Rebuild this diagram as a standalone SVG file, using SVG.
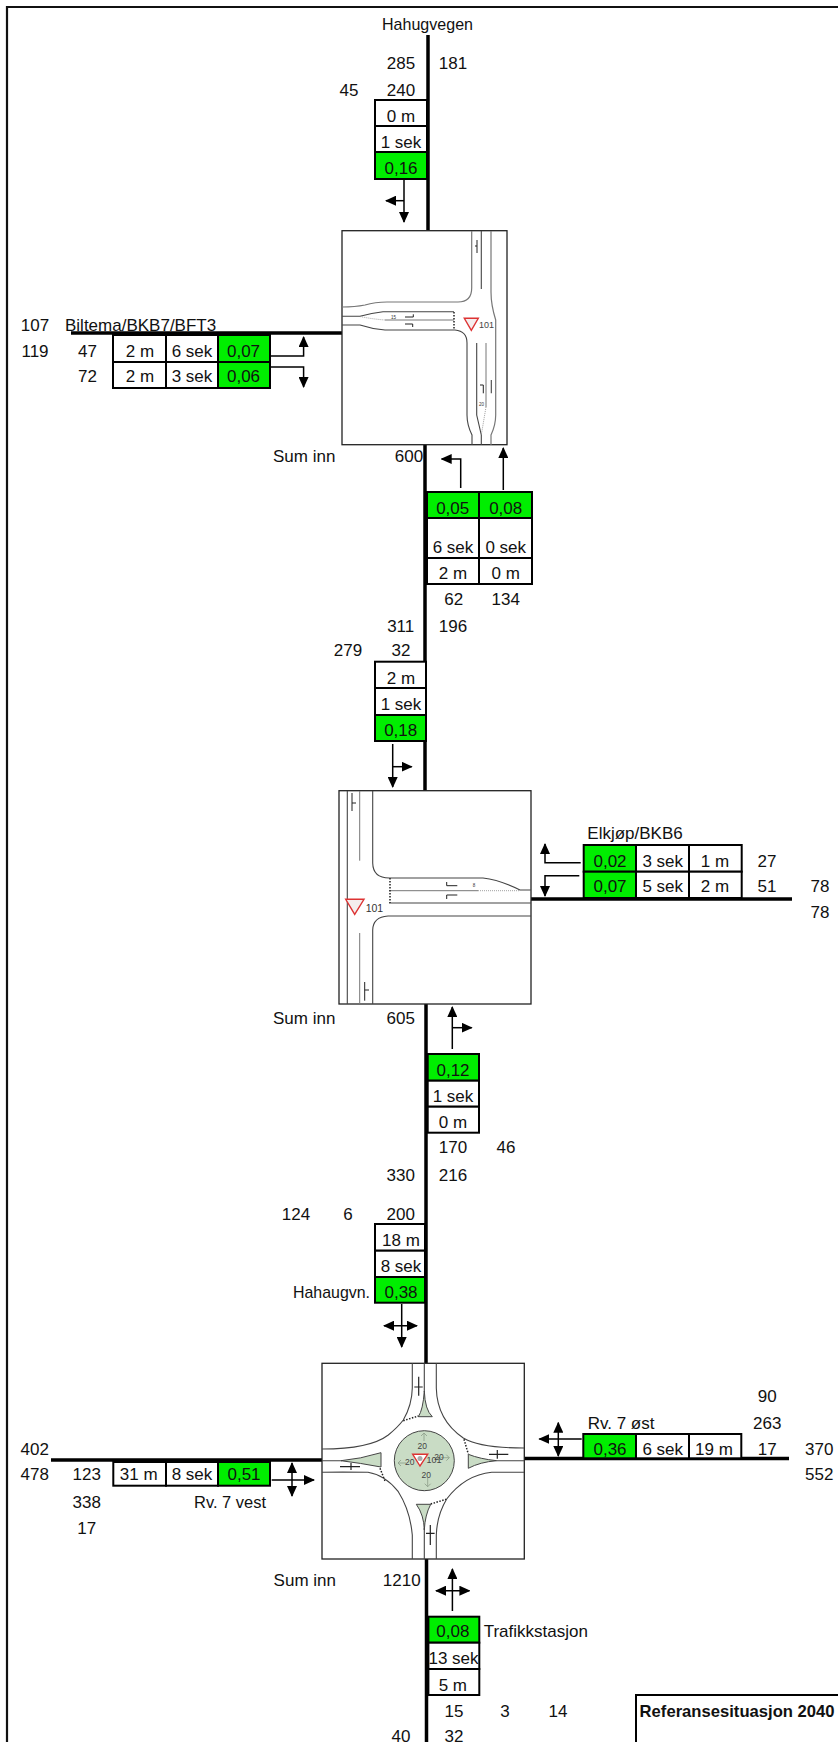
<svg xmlns="http://www.w3.org/2000/svg" width="838" height="1742" viewBox="0 0 838 1742">
<style>
text{font-family:"Liberation Sans",Arial,sans-serif;font-size:17px;fill:#111;text-anchor:middle}
.s{text-anchor:start}.e{text-anchor:end}.b{font-weight:bold}
.c{fill:#fff;stroke:#000;stroke-width:2}.g{fill:#00ee00;stroke:#000;stroke-width:2}
.road{stroke:#000;stroke-width:3.5;fill:none}
.ar{stroke:#000;stroke-width:1.5;fill:none;marker-end:url(#h)}
.st{stroke:#000;stroke-width:1.5;fill:none}
.frame{fill:#fff;stroke:#222;stroke-width:1.3}
.k{fill:none;stroke:#444;stroke-width:1.1}
.l{fill:none;stroke:#777;stroke-width:1}
.d{fill:none;stroke:#222;stroke-width:1.5;stroke-dasharray:1.5 1.5}
.t{fill:none;stroke:#888;stroke-width:.8;stroke-dasharray:1 1}
.m{fill:none;stroke:#222;stroke-width:1}
.y{fill:#f4eeee;stroke:#dd3333;stroke-width:1.4}
.i{fill:#c9dcc5;stroke:#444;stroke-width:1}
.n{fill:none;stroke:#8a9c88;stroke-width:.8}
.tiny{font-size:4.5px;fill:#333}
.sm{font-size:8px;fill:#444}
</style>
<defs>
<marker id="h" markerUnits="userSpaceOnUse" markerWidth="11" markerHeight="10" refX="10" refY="5" orient="auto"><path d="M0 0L11 5L0 10Z" fill="#000"/></marker>
<marker id="hs" markerUnits="userSpaceOnUse" markerWidth="11" markerHeight="10" refX="1" refY="5" orient="auto"><path d="M11 0L0 5L11 10Z" fill="#000"/></marker>
</defs>
<path d="M7 1742V7H838" fill="none" stroke="#111" stroke-width="2.2"/>

<g id="connectors">
<path class="road" d="M428 35V230"/>
<path class="road" d="M71 333H342"/>
<path class="road" d="M425 445V792"/>
<path class="road" d="M531 899H792"/>
<path class="road" d="M426 1004V1363"/>
<path class="road" d="M51 1460H322"/>
<path class="road" d="M524 1458.500H789"/>
<path class="road" d="M426.500 1559V1742"/>
<path class="ar" d="M404 180V222"/><path class="ar" d="M404 200.700H386"/>
<path class="ar" d="M271 356H303.600V337"/><path class="ar" d="M271 367H303.600V387"/>
<path class="ar" d="M460.700 488V459H441.700"/><path class="ar" d="M503.300 490V448"/>
<path class="ar" d="M392.700 744V787"/><path class="ar" d="M392.700 766.700H411.700"/>
<path class="ar" d="M580.700 862.700H545V844"/><path class="ar" d="M579.300 875.700H545V896"/>
<path class="ar" d="M452.300 1049V1007"/><path class="ar" d="M452.300 1027.700H471.700"/>
<path class="ar" d="M401.700 1304V1347"/><path d="M384 1325.700H417" class="ar" style="marker-start:url(#hs)"/>
<path class="ar" d="M271.700 1480H314"/><path d="M292 1463V1496" class="ar" style="marker-start:url(#hs)"/>
<path class="ar" d="M581.700 1439H539.300"/><path d="M558.300 1422.700V1456" class="ar" style="marker-start:url(#hs)"/>
<path class="ar" d="M452.400 1611V1569"/><path d="M436 1590.700H469.400" class="ar" style="marker-start:url(#hs)"/>
</g>

<g id="labels">
<text x="382" y="30" class="s" textLength="91" lengthAdjust="spacingAndGlyphs">Hahugvegen</text>
<text x="401" y="69">285</text><text x="453" y="69">181</text>
<text x="349" y="96">45</text><text x="401" y="96">240</text>
<text x="35" y="331">107</text><text x="65" y="331" class="s">Biltema/BKB7/BFT3</text>
<text x="35" y="357">119</text><text x="87.500" y="357">47</text><text x="87.500" y="382">72</text>
<text x="273" y="462" class="s">Sum inn</text><text x="409" y="462">600</text>
<text x="453.700" y="605">62</text><text x="505.700" y="605">134</text>
<text x="400.700" y="632">311</text><text x="453" y="632">196</text>
<text x="348" y="656">279</text><text x="401" y="656">32</text>
<text x="587.300" y="839" class="s">Elkjøp/BKB6</text>
<text x="767" y="866.700">27</text><text x="767" y="891.700">51</text>
<text x="820" y="891.700">78</text><text x="820" y="918">78</text>
<text x="273" y="1024" class="s">Sum inn</text><text x="400.700" y="1024">605</text>
<text x="453" y="1153">170</text><text x="506" y="1153">46</text>
<text x="400.700" y="1181">330</text><text x="453" y="1181">216</text>
<text x="296" y="1220">124</text><text x="348" y="1220">6</text><text x="400.700" y="1220">200</text>
<text x="293" y="1297.700" class="s" textLength="77" lengthAdjust="spacingAndGlyphs">Hahaugvn.</text>
<text x="767.300" y="1401.700">90</text><text x="767.300" y="1429">263</text><text x="767.300" y="1455">17</text>
<text x="587.700" y="1429" class="s">Rv. 7 øst</text>
<text x="819.300" y="1455">370</text><text x="819.300" y="1480">552</text>
<text x="34.700" y="1455">402</text><text x="34.700" y="1480">478</text><text x="86.700" y="1480">123</text>
<text x="86.700" y="1508">338</text><text x="86.700" y="1534">17</text>
<text x="194" y="1508" class="s" textLength="72" lengthAdjust="spacingAndGlyphs">Rv. 7 vest</text>
<text x="273.600" y="1585.700" class="s">Sum inn</text><text x="401.700" y="1585.700">1210</text>
<text x="483.700" y="1637" class="s">Trafikkstasjon</text>
<text x="454" y="1716.700">15</text><text x="505" y="1716.700">3</text><text x="558" y="1716.700">14</text>
<text x="401" y="1741.700">40</text><text x="454" y="1741.700">32</text>
</g>

<g id="tbl-n1">
<rect class="c" x="375" y="100" width="52" height="26"/><rect class="c" x="375" y="126" width="52" height="26"/><rect class="g" x="375" y="152" width="52" height="27"/>
<text x="401" y="122">0 m</text><text x="401" y="148">1 sek</text><text x="401" y="174">0,16</text>
</g>
<g id="tbl-w1">
<rect class="c" x="113" y="335" width="53" height="27"/><rect class="c" x="166" y="335" width="52" height="27"/><rect class="g" x="218" y="335" width="52" height="27"/>
<rect class="c" x="113" y="362" width="53" height="26"/><rect class="c" x="166" y="362" width="52" height="26"/><rect class="g" x="218" y="362" width="52" height="26"/>
<text x="140" y="357">2 m</text><text x="192" y="357">6 sek</text><text x="243.500" y="357">0,07</text>
<text x="140" y="382">2 m</text><text x="192" y="382">3 sek</text><text x="243.500" y="382">0,06</text>
</g>
<g id="tbl-s1">
<rect class="g" x="427" y="492" width="52" height="26"/><rect class="g" x="479" y="492" width="53" height="26"/>
<rect class="c" x="427" y="518" width="52" height="40"/><rect class="c" x="479" y="518" width="53" height="40"/>
<rect class="c" x="427" y="558" width="52" height="26"/><rect class="c" x="479" y="558" width="53" height="26"/>
<text x="452.700" y="514">0,05</text><text x="505.700" y="514">0,08</text>
<text x="453" y="553">6 sek</text><text x="505.700" y="553">0 sek</text>
<text x="453" y="579">2 m</text><text x="505.700" y="579">0 m</text>
</g>
<g id="tbl-n2">
<rect class="c" x="375" y="661.700" width="51" height="26.300"/><rect class="c" x="375" y="688" width="51" height="27"/><rect class="g" x="375" y="715" width="51" height="26"/>
<text x="401" y="684">2 m</text><text x="401" y="710">1 sek</text><text x="400.700" y="736">0,18</text>
</g>
<g id="tbl-e2">
<rect class="g" x="583.700" y="845" width="52.300" height="26.700"/><rect class="c" x="636" y="845" width="53" height="26.700"/><rect class="c" x="689" y="845" width="52.700" height="26.700"/>
<rect class="g" x="583.700" y="871.700" width="52.300" height="26.300"/><rect class="c" x="636" y="871.700" width="53" height="26.300"/><rect class="c" x="689" y="871.700" width="52.700" height="26.300"/>
<text x="610" y="866.700">0,02</text><text x="662.700" y="866.700">3 sek</text><text x="715" y="866.700">1 m</text>
<text x="610" y="891.700">0,07</text><text x="662.700" y="891.700">5 sek</text><text x="715" y="891.700">2 m</text>
</g>
<g id="tbl-s2">
<rect class="g" x="427.700" y="1054" width="51.300" height="26.700"/><rect class="c" x="427.700" y="1080.700" width="51.300" height="26"/><rect class="c" x="427.700" y="1106.700" width="51.300" height="26"/>
<text x="453" y="1076">0,12</text><text x="453" y="1101.700">1 sek</text><text x="453" y="1128">0 m</text>
</g>
<g id="tbl-n3">
<rect class="c" x="375" y="1224" width="50" height="26.700"/><rect class="c" x="375" y="1250.700" width="50" height="26.300"/><rect class="g" x="375" y="1277" width="50" height="25.700"/>
<text x="401" y="1246">18 m</text><text x="401" y="1272">8 sek</text><text x="401" y="1297.700">0,38</text>
</g>
<g id="tbl-w3">
<rect class="c" x="113.300" y="1462" width="52.700" height="23.700"/><rect class="c" x="166" y="1462" width="52" height="23.700"/><rect class="g" x="218" y="1462" width="52" height="23.700"/>
<text x="138.700" y="1480">31 m</text><text x="192" y="1480">8 sek</text><text x="244" y="1480">0,51</text>
</g>
<g id="tbl-e3">
<rect class="g" x="583.300" y="1434" width="52.700" height="24.300"/><rect class="c" x="636" y="1434" width="53" height="24.300"/><rect class="c" x="689" y="1434" width="52.300" height="24.300"/>
<text x="610" y="1455">0,36</text><text x="662.700" y="1455">6 sek</text><text x="714" y="1455">19 m</text>
</g>
<g id="tbl-s3">
<rect class="g" x="428.400" y="1616.700" width="50.900" height="26"/><rect class="c" x="428.400" y="1642.700" width="50.900" height="26.300"/><rect class="c" x="428.400" y="1669" width="50.900" height="26"/>
<text x="452.800" y="1637">0,08</text><text x="453.500" y="1664">13 sek</text><text x="452.800" y="1690.700">5 m</text>
</g>

<g id="junction-1">
<rect class="frame" x="342" y="230.700" width="165" height="214"/>
<path class="l" style="stroke-width:1.2" d="M471.700 231V288Q471.700 302 458 302H387Q375 302 365 305Q355 307 342 307"/>
<path class="l" style="stroke-width:1.2" d="M491 231V292Q491 305 495.700 320V415Q495.700 425 491 435V445"/>
<path class="k" d="M481.300 231V289"/>
<path class="k" d="M342 316.300H360Q372 313 383 311.700H454"/>
<path class="k" d="M342 325H360Q372 329 385 330H455Q467 331 467 343V415Q467 425 472 435V445"/>
<path class="t" d="M360 316.500Q372 319 385 320"/><path class="l" d="M385 320H454"/>
<path class="d" d="M454 312V330"/>
<path class="k" d="M476.700 343V415L481.300 435V445"/>
<path class="l" d="M486 343V407"/><path class="t" d="M486 407L481.300 435"/>
<path class="y" d="M464.300 318.300H478.300L471.300 330.300Z"/>
<text class="sm" x="486.500" y="327.500" style="font-size:9px">101</text>
<text class="tiny" x="393.500" y="318.500">15</text><text class="tiny" x="481.500" y="406">20</text>
<path class="m" d="M405 317H413.300V314.300"/><path class="m" d="M405 324H412.700V327"/>
<path class="m" d="M480 385H483.300V393.300"/><path class="k" d="M491.300 380V393.300"/>
<path class="m" d="M477 240V253M477 246H475"/>
</g>

<g id="junction-2">
<rect class="frame" x="339" y="790.700" width="192" height="213.300"/>
<path class="k" d="M347.300 791V1004"/>
<path class="l" d="M359.700 791V860.700M359.700 933V1004"/>
<path class="k" d="M372.700 791V863Q373 878 389.300 878H483Q500 880 520 890H531"/>
<path class="k" d="M389 903H531"/>
<path class="k" d="M531 916H388Q373 917 372.700 930V1004"/>
<path class="l" d="M389 890.700H478"/><path class="t" d="M478 890.700H520"/>
<path class="d" d="M390 878V903"/>
<path class="y" d="M345.700 899.300H364L354.700 914.300Z"/>
<text x="365.700" y="911.700" class="s" style="font-size:10.500px;fill:#333">101</text>
<path class="m" d="M352 793V811M352 803H356"/><path class="m" d="M364.700 982V1000.700M364.700 990H369"/>
<path class="m" d="M446.700 882V885.700H457.300"/><path class="m" d="M446.700 899V895H457.300"/>
<text class="tiny" x="474" y="887">8</text>
</g>

<g id="junction-3">
<rect class="frame" x="322" y="1363.300" width="202.300" height="195.700"/>
<path class="k" d="M412.300 1363.300V1388Q412 1405 403.300 1420Q398 1427 388.300 1435Q370 1449 322 1449"/>
<path class="k" d="M436.300 1363.300V1388Q437 1420 463.300 1438Q480 1448 524 1448"/>
<path class="k" d="M524 1472.300H491.700Q465 1475 446.700 1499Q437 1515 436.300 1535V1559"/>
<path class="k" d="M412.300 1559V1535Q410 1510 398.300 1491.700Q385 1475 368 1472.300Q340 1472 322 1472.300"/>
<path class="k" d="M424.300 1363.300V1391.700M424.300 1528V1559M322 1460.700H341.700M496.700 1460.700H524.300"/>
<path class="i" d="M424.300 1391Q425 1410 432.300 1416.700H418.300Q423 1410 424.300 1391Z"/>
<path class="i" d="M496.700 1460.700Q480 1462 468.300 1468.300V1454.300Q480 1459 496.700 1460.700Z"/>
<path class="i" d="M424.300 1530Q424 1515 416.300 1504.300H430.700Q425 1515 424.300 1530Z"/>
<path class="i" d="M341 1460.700Q360 1459 381 1452.700V1467Q360 1463 341 1460.700Z"/>
<path class="d" d="M403.300 1420.700L418.300 1416M464 1439.300L468.300 1454M430.700 1504L446 1499.300M380 1468.300L385 1481"/>
<circle class="i" cx="424.300" cy="1460.700" r="30"/>
<path class="n" d="M424 1433V1441M421 1436L424 1433L427 1436M398 1463H406M401 1460L398 1463L401 1466M427.700 1486.700V1478M424.700 1483.700L427.700 1486.700L430.700 1483.700M449.300 1457.700H441M446.300 1454.700L449.300 1457.700L446.300 1460.700"/>
<text class="sm" x="422.300" y="1448.700" style="font-size:8.500px">20</text>
<text class="sm" x="409.700" y="1465.300" style="font-size:8.500px">20</text>
<text class="sm" x="426.300" y="1477.700" style="font-size:8.500px">20</text>
<text class="sm" x="439" y="1460" style="font-size:8.500px">20</text>
<text class="sm" x="434" y="1463" style="font-size:9px">101</text>
<path class="y" d="M412.700 1454.300H427.700L420 1466Z" style="fill:#fff"/>
<circle cx="420" cy="1458.500" r="2.500" fill="#aaa"/>
<path class="m" style="stroke-width:1.200" d="M418.700 1376.700V1395.700M414.300 1387H422.700M430.300 1545V1525M426 1533.300H434.600M340 1466.700H360M351 1463V1470M508.300 1454.300H489M497.300 1450V1458.700"/>
</g>

<g id="title-box">
<rect x="636" y="1695" width="240" height="80" fill="#fff" stroke="#000" stroke-width="2"/>
<text class="s b" x="639.600" y="1716.700" textLength="195" lengthAdjust="spacingAndGlyphs">Referansesituasjon 2040</text>
</g>
</svg>
